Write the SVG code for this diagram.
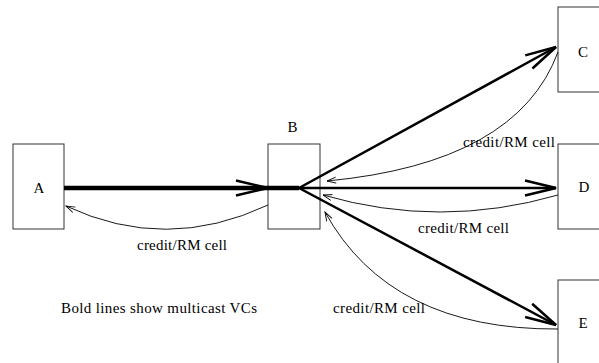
<svg xmlns="http://www.w3.org/2000/svg" width="599" height="363" viewBox="0 0 599 363">
<style>
.box{fill:#fff;stroke:#333;stroke-width:1}
.lbl{font-family:"Liberation Serif","Times New Roman",serif;font-size:15px;fill:#000}
.bold{stroke:#000;fill:none;stroke-width:2.5}
.thin{stroke:#000;fill:none;stroke-width:0.9}
</style>
<defs>
<marker id="big" markerUnits="userSpaceOnUse" markerWidth="40" markerHeight="24" viewBox="-34 -12 40 24" refX="0" refY="0" orient="auto">
<path d="M -31 -7.5 L 0 0 L -31 7.5" fill="none" stroke="#000" stroke-width="2.5"/>
</marker>
<marker id="small" markerUnits="userSpaceOnUse" markerWidth="14" markerHeight="10" viewBox="-12 -5 14 10" refX="0" refY="0" orient="auto">
<path d="M -9 -3 L 0 0 L -9 3" fill="none" stroke="#000" stroke-width="0.9"/>
</marker>
</defs>
<g id="A"><rect class="box" x="13" y="144" width="51" height="85"/><text class="lbl" x="39" y="193" text-anchor="middle">A</text></g>
<g id="B"><rect class="box" x="268" y="144" width="52" height="85"/><text class="lbl" x="292.5" y="132" text-anchor="middle">B</text></g>
<g id="C"><rect class="box" x="558" y="7" width="50" height="85"/><text class="lbl" x="583" y="57" text-anchor="middle">C</text></g>
<g id="D"><rect class="box" x="558" y="144" width="50" height="85"/><text class="lbl" x="584" y="192" text-anchor="middle">D</text></g>
<g id="E"><rect class="box" x="558" y="280" width="50" height="90"/><text class="lbl" x="583" y="328" text-anchor="middle">E</text></g>
<g id="connectors">
<line x1="64" y1="188" x2="299" y2="188" stroke="#000" stroke-width="4.5"/>
<path d="M 236 180.5 L 268 188 L 236 195.5" fill="none" stroke="#000" stroke-width="2.5"/>
<line class="bold" x1="299" y1="188" x2="556" y2="47" marker-end="url(#big)"/>
<line class="bold" x1="299" y1="188" x2="556" y2="188" marker-end="url(#big)"/>
<line class="bold" x1="299" y1="188" x2="556" y2="325" marker-end="url(#big)"/>
<path class="thin" d="M 268 205 Q 166 253 66 206" marker-end="url(#small)"/>
<path class="thin" d="M 558 52 Q 517 163 327 181" marker-end="url(#small)"/>
<path class="thin" d="M 558 195 Q 440 229 323 195" marker-end="url(#small)"/>
<path class="thin" d="M 558 329 Q 390 330 325 212" marker-end="url(#small)"/>
</g>
<text class="lbl" x="137" y="249.5" textLength="90">credit/RM cell</text>
<text class="lbl" x="463" y="147" textLength="92">credit/RM cell</text>
<text class="lbl" x="418" y="233" textLength="91">credit/RM cell</text>
<text class="lbl" x="333" y="313" textLength="92">credit/RM cell</text>
<text class="lbl" x="61" y="313" textLength="196">Bold lines show multicast VCs</text>
</svg>
